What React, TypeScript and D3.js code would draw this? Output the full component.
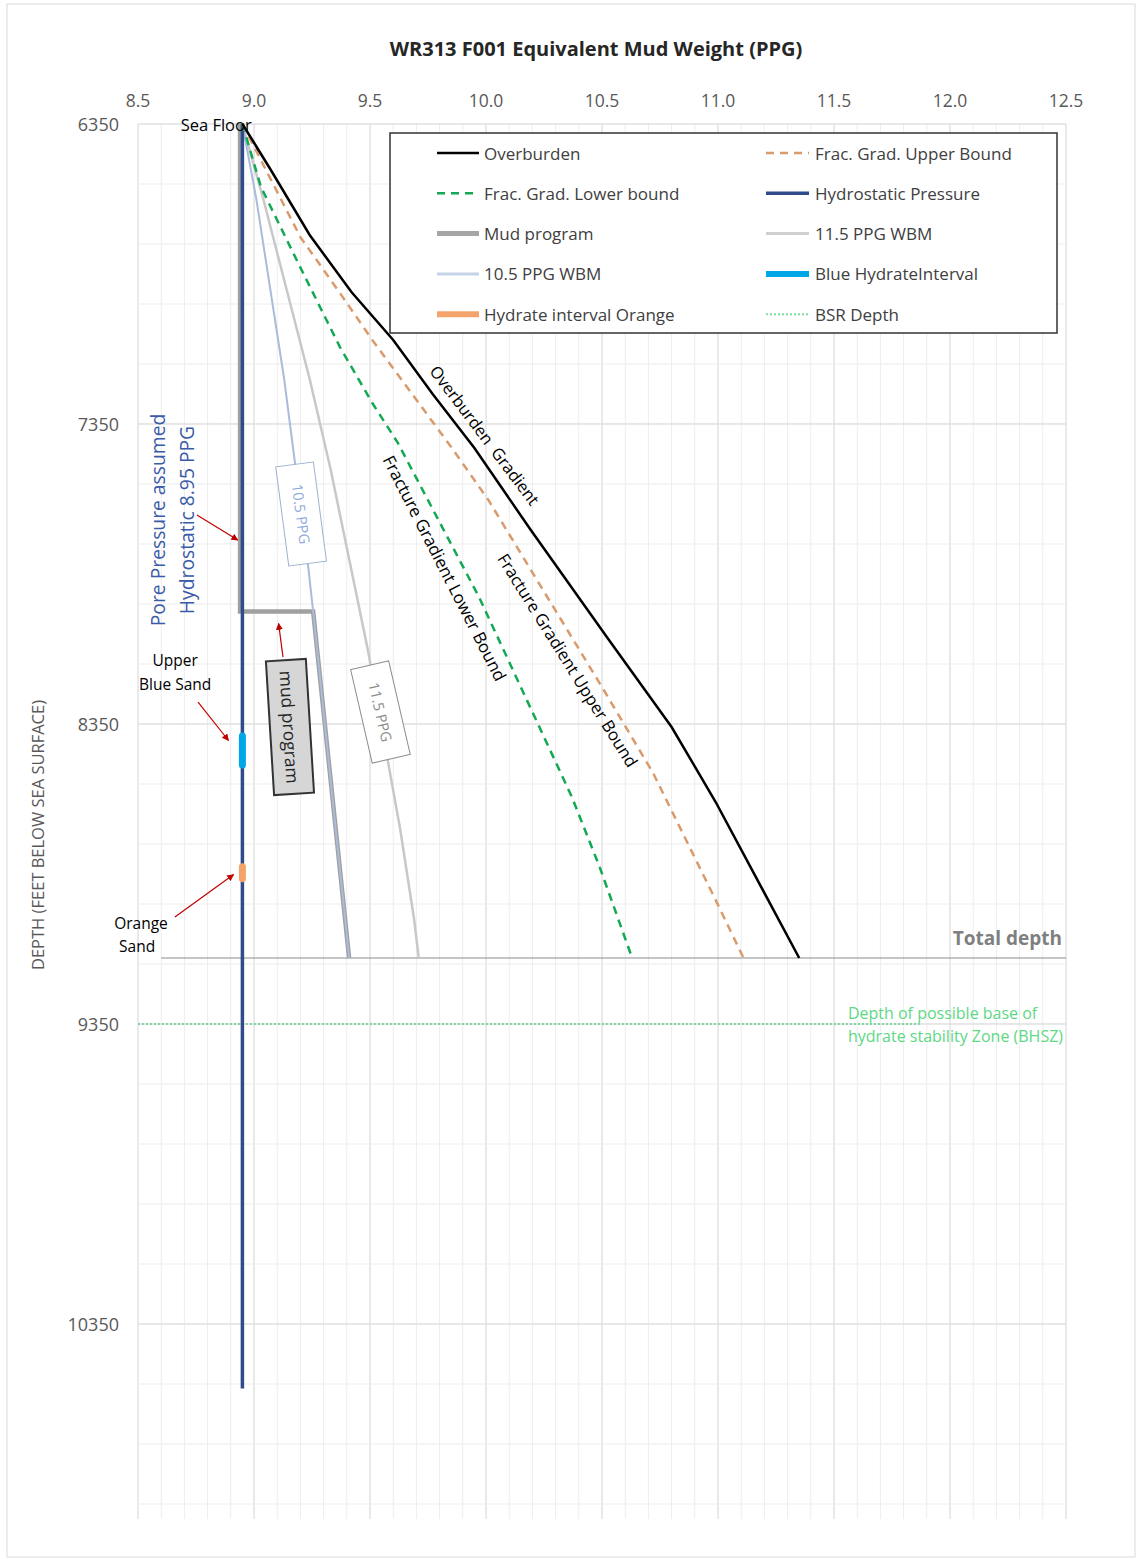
import React from "react";
import * as d3 from "d3";

const W = 1139;
const H = 1559;

// axis ticks
const xTicks = [8.5, 9.0, 9.5, 10.0, 10.5, 11.0, 11.5, 12.0, 12.5];
const yTicks = [6350, 7350, 8350, 9350, 10350];

// series: [depth (ft), equivalent mud weight (ppg)]
const overburden: [number, number][] = [
  [6350, 8.95], [6500, 9.07], [6720, 9.24], [6910, 9.42], [7070, 9.6], [7250, 9.77],
  [7430, 9.95], [7700, 10.19], [8070, 10.53], [8360, 10.8], [8610, 10.99], [9130, 11.35],
];
const fracUpper: [number, number][] = [
  [6350, 8.95], [6727, 9.2], [6913, 9.37], [7070, 9.51], [7427, 9.85], [7603, 10.01],
  [8227, 10.5], [8513, 10.72], [8937, 10.99], [9130, 11.11],
];
const fracLower: [number, number][] = [
  [6350, 8.95], [6560, 9.03], [6813, 9.19], [7093, 9.37], [7280, 9.51], [7413, 9.62],
  [7927, 9.97], [8360, 10.23], [8593, 10.37], [8827, 10.49], [9130, 10.63],
];
const hydrostatic: [number, number][] = [[6350, 8.95], [10565, 8.95]];
const mudProgram: [number, number][] = [
  [6350, 8.94], [7975, 8.94], [7975, 9.255], [9130, 9.41],
];
const wbm115: [number, number][] = [
  [6350, 8.95], [6600, 9.04], [6900, 9.14], [7200, 9.24], [7500, 9.33], [7800, 9.41],
  [8100, 9.49], [8400, 9.56], [8700, 9.63], [9000, 9.69], [9130, 9.71],
];
const wbm105: [number, number][] = [
  [6350, 8.95], [6600, 9.01], [6900, 9.07], [7200, 9.13], [7500, 9.18], [7800, 9.23],
  [7975, 9.255], [8400, 9.312], [8700, 9.352], [9000, 9.393], [9130, 9.41],
];
const blueHydrate: [number, number][] = [[8390, 8.95], [8487, 8.95]];
const orangeHydrate: [number, number][] = [[8826, 8.95], [8866, 8.95]];
const bsrDepth: [number, number][] = [[9350, 8.5], [9350, 11.87]];
const totalDepth: [number, number][] = [[9130, 8.6], [9130, 12.5]];

const FONT = "'Open Sans', 'Noto Sans', sans-serif";

export default function App() {
  const x = d3.scaleLinear().domain([8.5, 12.5]).range([138, 1066]);
  const y = d3.scaleLinear().domain([6350, 11000]).range([124, 1519]);
  const line = d3
    .line<[number, number]>()
    .x((d) => x(d[1]))
    .y((d) => y(d[0]));

  const minorX = d3.range(0, 41).map((i) => 8.5 + i * 0.1);
  const minorY = d3.range(0, 24).map((i) => 6350 + i * 200);
  const majorY = d3.range(0, 5).map((i) => 6350 + i * 1000);

  const legendRows = [
    { label: "Overburden", stroke: "#000", w: 2.5, dash: undefined },
    { label: "Frac. Grad. Lower bound", stroke: "#13A853", w: 2.5, dash: "8,6" },
    { label: "Mud program", stroke: "#A6A6A6", w: 5, dash: undefined },
    { label: "10.5 PPG WBM", stroke: "#C5D3E8", w: 3, dash: undefined },
    { label: "Hydrate interval Orange", stroke: "#F4A46B", w: 6, dash: undefined },
  ];
  const legendRows2 = [
    { label: "Frac. Grad. Upper Bound", stroke: "#D99A6C", w: 2.5, dash: "8,6" },
    { label: "Hydrostatic Pressure", stroke: "#2F4B8C", w: 3.5, dash: undefined },
    { label: "11.5 PPG WBM", stroke: "#D0D0D0", w: 3, dash: undefined },
    { label: "Blue HydrateInterval", stroke: "#00A7E8", w: 6, dash: undefined },
    { label: "BSR Depth", stroke: "#7FDDA0", w: 2, dash: "2,2" },
  ];

  const arrow = (x1: number, d1: number, x2: number, d2: number) => (
    <line
      x1={x(x1)}
      y1={y(d1)}
      x2={x(x2)}
      y2={y(d2)}
      stroke="#C00000"
      strokeWidth={1.2}
      markerEnd="url(#redArrow)"
    />
  );

  const rotBox = (
    cx: number,
    cd: number,
    angle: number,
    bw: number,
    bh: number,
    text: string,
    fill: string,
    stroke: string,
    sw: number,
    color: string,
    fs: number
  ) => (
    <g transform={`translate(${x(cx)},${y(cd)}) rotate(${angle})`}>
      <rect x={-bw / 2} y={-bh / 2} width={bw} height={bh} fill={fill} stroke={stroke} strokeWidth={sw} />
      <text x={0} y={0} textAnchor="middle" dominantBaseline="central" fill={color} fontSize={fs} fontFamily={FONT}>
        {text}
      </text>
    </g>
  );

  const rotText = (cx: number, cd: number, angle: number, text: string, fs: number, color = "#000") => (
    <text
      transform={`translate(${x(cx)},${y(cd)}) rotate(${angle})`}
      textAnchor="middle"
      dominantBaseline="central"
      fontSize={fs}
      fill={color}
      fontFamily={FONT}
      style={{ whiteSpace: "pre" }}
    >
      {text}
    </text>
  );

  return (
    <svg
      width={W}
      height={H}
      style={{ position: "absolute", left: 0, top: 0, background: "#fff" }}
      fontFamily={FONT}
    >
      <defs>
        <marker id="redArrow" viewBox="0 0 10 10" refX="9" refY="5" markerWidth="7" markerHeight="7" orient="auto-start-reverse" markerUnits="userSpaceOnUse">
          <path d="M0,0 L10,5 L0,10 z" fill="#C00000" />
        </marker>
      </defs>
      <rect x={7} y={4} width={1128} height={1553} fill="#fff" stroke="#D9D9D9" strokeWidth={1} />

      {/* title */}
      <text x={596} y={48} textAnchor="middle" dominantBaseline="central" fontSize={20} fontWeight="bold" fill="#262626">
        WR313 F001 Equivalent Mud Weight (PPG)
      </text>

      {/* grid */}
      {minorX.map((v, i) => (
        <line key={"mx" + i} x1={x(v)} x2={x(v)} y1={y(6350)} y2={y(11000)} stroke={i % 5 === 0 ? "#D4D4D4" : "#EDEDED"} strokeWidth={1} />
      ))}
      {minorY.map((v, i) => (
        <line key={"my" + i} x1={x(8.5)} x2={x(12.5)} y1={y(v)} y2={y(v)} stroke="#EDEDED" strokeWidth={1} />
      ))}
      {majorY.map((v, i) => (
        <line key={"My" + i} x1={x(8.5)} x2={x(12.5)} y1={y(v)} y2={y(v)} stroke="#D9D9D9" strokeWidth={1} />
      ))}

      {/* tick labels */}
      {xTicks.map((v) => (
        <text key={"xt" + v} x={x(v)} y={100} textAnchor="middle" dominantBaseline="central" fontSize={17.5} fill="#595959">
          {v.toFixed(1)}
        </text>
      ))}
      {yTicks.map((v) => (
        <text key={"yt" + v} x={119} y={y(v)} textAnchor="end" dominantBaseline="central" fontSize={18} fill="#595959">
          {v}
        </text>
      ))}
      <text transform={`translate(37,835) rotate(-90)`} textAnchor="middle" dominantBaseline="central" fontSize={16.5} fill="#595959">
        DEPTH (FEET BELOW SEA SURFACE)
      </text>

      {/* reference lines */}
      <path d={line(totalDepth) || ""} stroke="#8C8C8C" strokeWidth={1.2} fill="none" />
      <path d={line(bsrDepth) || ""} stroke="#5FD38A" strokeWidth={1.5} strokeDasharray="2,2" fill="none" />

      {/* series */}
      <path d={line(wbm115) || ""} stroke="#C8C8C8" strokeWidth={2.5} fill="none" />
      <path d={line(mudProgram) || ""} stroke="#A0A0A0" strokeWidth={4.5} fill="none" />
      <path d={line(wbm105) || ""} stroke="#A9BCDA" strokeWidth={2} fill="none" />
      <path d={line(hydrostatic) || ""} stroke="#2F4B8C" strokeWidth={3.5} fill="none" />
      <path d={line(blueHydrate) || ""} stroke="#00A7E8" strokeWidth={7} strokeLinecap="round" fill="none" />
      <path d={line(orangeHydrate) || ""} stroke="#F4A46B" strokeWidth={7} strokeLinecap="round" fill="none" />
      <path d={line(fracLower) || ""} stroke="#13A853" strokeWidth={2.5} strokeDasharray="8,6" fill="none" />
      <path d={line(fracUpper) || ""} stroke="#D99A6C" strokeWidth={2.5} strokeDasharray="8,6" fill="none" />
      <path d={line(overburden) || ""} stroke="#000" strokeWidth={2.5} fill="none" />

      {/* legend */}
      <rect x={390} y={133} width={667} height={200} fill="#fff" stroke="#333" strokeWidth={1.5} />
      {legendRows.map((r, i) => (
        <g key={"l1" + i}>
          <line x1={437} x2={479} y1={153 + i * 40.3} y2={153 + i * 40.3} stroke={r.stroke} strokeWidth={r.w} strokeDasharray={r.dash} />
          <text x={484} y={153 + i * 40.3} dominantBaseline="central" fontSize={17} fill="#404040">
            {r.label}
          </text>
        </g>
      ))}
      {legendRows2.map((r, i) => (
        <g key={"l2" + i}>
          <line x1={766} x2={809} y1={153 + i * 40.3} y2={153 + i * 40.3} stroke={r.stroke} strokeWidth={r.w} strokeDasharray={r.dash} />
          <text x={815} y={153 + i * 40.3} dominantBaseline="central" fontSize={17} fill="#404040">
            {r.label}
          </text>
        </g>
      ))}

      {/* annotations */}
      <text x={x(8.99)} y={y(6350)} textAnchor="end" dominantBaseline="central" fontSize={16.5} fill="#000">
        Sea Floor
      </text>
      {rotText(8.586, 7670, -90, "Pore Pressure assumed", 19.3, "#3A5BA8")}
      {rotText(8.707, 7670, -90, "Hydrostatic 8.95 PPG", 19.3, "#3A5BA8")}
      {arrow(8.754, 7653, 8.93, 7737)}

      {rotBox(9.203, 7650, 82.5, 100, 38, "10.5 PPG", "#fff", "#9DB0CF", 1, "#8FAADC", 14.5)}
      {rotBox(9.545, 8310, 77, 96, 39, "11.5 PPG", "#fff", "#8C8C8C", 1, "#8C8C8C", 14.5)}
      {rotBox(9.155, 8360, 86.5, 134, 40, "mud program", "#D6D6D6", "#333", 2, "#262626", 17.5)}
      {arrow(9.125, 8127, 9.106, 8015)}

      <text x={x(8.66)} y={y(8137)} textAnchor="middle" dominantBaseline="central" fontSize={15.5} fill="#000">
        Upper
      </text>
      <text x={x(8.66)} y={y(8217)} textAnchor="middle" dominantBaseline="central" fontSize={15.5} fill="#000">
        Blue Sand
      </text>
      {arrow(8.759, 8277, 8.89, 8405)}

      <text x={x(8.513)} y={y(9013)} textAnchor="middle" dominantBaseline="central" fontSize={15.5} fill="#000">
        Orange
      </text>
      <text x={x(8.496)} y={y(9090)} textAnchor="middle" dominantBaseline="central" fontSize={15.5} fill="#000">
        Sand
      </text>
      {arrow(8.659, 8993, 8.912, 8852)}

      {rotText(9.996, 7387, 53, "Overburden  Gradient", 16.5)}
      {rotText(9.823, 7830, 63, "Fracture Gradient Lower Bound", 17)}
      {rotText(10.353, 8137, 58, "Fracture Gradient Upper Bound", 16.8)}

      <text x={x(12.483)} y={y(9063)} textAnchor="end" dominantBaseline="central" fontSize={19} fontWeight="bold" fill="#7F7F7F">
        Total depth
      </text>
      <text x={x(11.56)} y={y(9313)} dominantBaseline="central" fontSize={16} fill="#5ED885">
        Depth of possible base of
      </text>
      <text x={x(11.56)} y={y(9390)} dominantBaseline="central" fontSize={16} fill="#5ED885">
        hydrate stability Zone (BHSZ)
      </text>
    </svg>
  );
}
